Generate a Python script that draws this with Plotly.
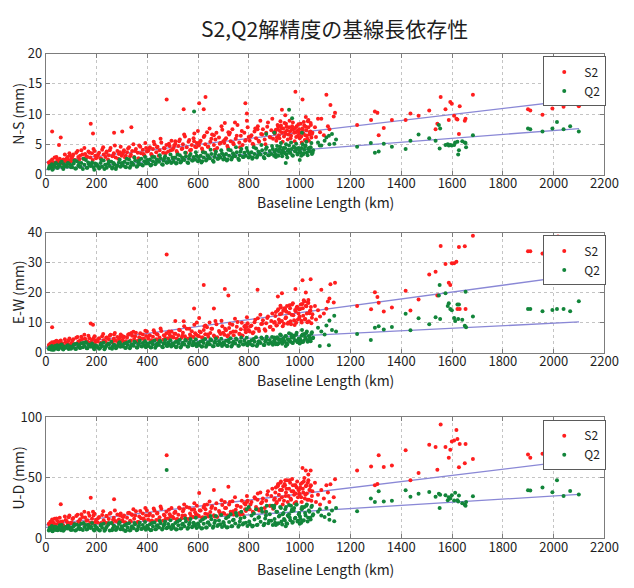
import plotly.graph_objects as go

# ---------------- data ----------------
# S2 baselines: dense cloud (km) and per-component precision (mm)
s2_km_dense = [
    15, 18, 22, 25, 28, 32, 35, 40, 45, 50, 55, 60, 65, 70, 78, 85, 90, 95,
    102, 108, 115, 120, 128, 135, 140, 148, 155, 160, 168, 175, 182, 188, 195, 198,
    203, 210, 215, 222, 228, 235, 240, 248, 255, 262, 268, 275, 282, 288, 295, 299,
    302, 308, 315, 320, 328, 335, 340, 348, 355, 362, 368, 375, 382, 388, 395, 398,
    403, 410, 415, 422, 428, 435, 440, 448, 455, 462, 468, 475, 482, 488, 495, 499,
    503, 510, 515, 522, 528, 535, 540, 548, 555, 562, 568, 575, 582, 588, 595, 599,
    603, 610, 615, 622, 628, 635, 640, 648, 655, 662, 668, 675, 682, 688, 695, 699,
    703, 710, 715, 722, 728, 735, 740, 748, 755, 762, 768, 775, 782, 788, 795, 799,
    803, 810, 815, 822, 828, 835, 840, 848, 855, 862, 868, 875, 882, 888, 895, 899,
    902, 906, 910, 915, 918, 922, 926, 930, 935, 938, 942, 946, 950, 955, 958, 962,
    966, 970, 975, 978, 982, 986, 990, 995, 998,
    1002, 1006, 1010, 1014, 1018, 1022, 1026, 1030, 1034, 1038, 1042, 1046, 1050,
    12, 30, 42, 58, 68, 75, 82, 88, 93, 99,
    105, 112, 125, 132, 144, 152, 164, 172, 185, 192,
    206, 218, 226, 238, 245, 252, 265, 272, 285, 292,
    305, 312, 324, 332, 345, 352, 365, 372, 385, 392,
    406, 418, 425, 438, 445, 452, 465, 472, 485, 492,
    506, 518, 525, 538, 545, 552, 565, 572, 585, 592,
    606, 618, 625, 638, 645, 652, 665, 672, 685, 692,
    706, 718, 725, 738, 745, 752, 765, 772, 785, 792,
    806, 818, 825, 838, 845, 852, 865, 872, 885, 892,
    904, 908, 913, 920, 924, 928, 933, 940, 944, 948, 953, 960, 964, 968, 973, 980,
    984, 988, 993, 997,
    1000, 1004, 1008, 1012, 1016, 1020, 1024, 1028, 1032, 1036, 1040, 1044, 1048,
]
s2_ns_dense = [
    1.6, 2.2, 1.9, 2.5, 1.4, 2.0, 2.8, 1.8, 2.4, 2.1, 2.6, 2.3, 1.9, 2.5, 2.2, 2.9, 2.4, 3.1,
    2.7, 3.3, 2.4, 3.6, 2.9, 3.1, 4.0, 2.6, 3.4, 3.0, 3.8, 2.8, 3.5, 4.2, 3.1, 2.7,
    3.0, 3.6, 2.7, 4.1, 3.3, 2.9, 3.8, 3.2, 4.4, 3.0, 3.5, 2.8, 3.9, 3.4, 4.6, 3.1,
    3.4, 4.0, 3.1, 3.7, 4.5, 3.3, 3.9, 2.9, 4.2, 3.6, 4.8, 3.5, 4.1, 3.2, 4.4, 3.8,
    3.9, 4.5, 3.4, 4.2, 5.0, 3.7, 4.6, 4.0, 5.3, 3.6, 4.3, 4.9, 3.8, 4.7, 5.6, 4.1,
    4.4, 5.1, 3.9, 4.7, 5.8, 4.2, 5.0, 6.3, 4.5, 5.4, 4.0, 4.9, 6.0, 4.6, 5.2, 7.2,
    4.8, 5.6, 4.3, 6.2, 5.0, 7.0, 4.6, 5.4, 6.6, 4.9, 5.8, 4.4, 6.1, 5.2, 7.4, 5.5,
    5.2, 6.0, 4.7, 6.6, 5.5, 7.5, 5.0, 5.9, 8.2, 5.3, 6.4, 4.9, 6.9, 5.7, 7.8, 6.2,
    5.6, 6.5, 5.1, 7.1, 6.0, 8.0, 5.4, 6.7, 7.5, 5.8, 6.9, 8.6, 6.2, 7.3, 5.9, 7.0,
    6.8, 7.4, 6.1, 7.9, 6.5, 7.2, 8.1, 6.9, 7.6, 6.3, 7.0, 8.4, 7.3, 6.6, 7.8, 7.1,
    6.4, 8.0, 7.5, 6.9, 7.7, 6.2, 7.2, 8.3, 6.8,
    7.0, 6.3, 7.6, 6.8, 8.1, 6.5, 7.3, 5.9, 7.8, 6.6, 7.1, 6.1, 6.9,
    2.0, 1.7, 2.9, 2.3, 1.8, 3.3, 2.6, 2.0, 3.5, 2.2,
    3.0, 2.3, 3.9, 2.5, 3.3, 4.4, 2.9, 3.6, 2.4, 3.9,
    3.3, 2.6, 4.5, 3.6, 2.5, 4.0, 3.1, 4.8, 2.6, 3.7,
    3.7, 2.8, 4.3, 3.0, 5.0, 3.9, 2.7, 4.6, 3.4, 5.2,
    4.2, 3.2, 5.4, 4.5, 3.1, 5.9, 4.4, 3.5, 5.1, 4.0,
    4.8, 3.6, 5.5, 4.3, 6.6, 3.6, 5.7, 4.1, 6.8, 4.5,
    5.3, 3.9, 6.4, 4.6, 7.6, 5.9, 4.1, 6.9, 5.1, 8.0,
    5.8, 4.4, 6.9, 5.2, 8.6, 6.4, 4.5, 7.2, 5.6, 8.9,
    6.3, 4.9, 7.6, 5.6, 8.9, 6.6, 5.0, 7.9, 6.1, 9.2,
    7.1, 5.6, 8.2, 6.0, 8.8, 7.7, 5.4, 8.5, 6.7, 7.9, 5.8, 8.9, 6.0, 7.4, 8.6, 5.5,
    7.0, 8.0, 6.4, 7.5,
    6.0, 8.4, 5.3, 7.4, 8.7, 5.7, 7.9, 6.4, 8.8, 5.6, 7.0, 8.2, 6.7,
]
s2_ew_dense = [
    2.1, 3.0, 2.6, 3.4, 1.9, 2.8, 3.6, 2.4, 3.2, 2.7, 3.8, 2.5, 3.1, 2.2, 3.5, 2.9, 4.0, 2.6,
    3.2, 4.4, 2.8, 4.9, 3.6, 4.1, 5.3, 3.0, 4.6, 3.8, 5.6, 3.3, 4.2, 4.8, 3.5, 4.0,
    3.7, 4.8, 3.2, 5.4, 4.1, 3.6, 5.0, 4.4, 5.9, 3.4, 4.6, 3.9, 5.2, 4.3, 6.0, 3.8,
    4.2, 5.3, 3.8, 4.9, 6.2, 4.0, 5.6, 4.5, 6.6, 3.9, 5.1, 4.7, 6.0, 4.3, 5.5, 7.0,
    4.6, 5.8, 4.1, 5.3, 6.7, 4.4, 6.0, 5.0, 7.2, 4.3, 5.5, 6.4, 4.8, 5.9, 7.0, 5.2,
    5.0, 6.3, 4.6, 5.8, 7.4, 4.9, 6.6, 5.4, 7.9, 4.7, 6.0, 7.1, 5.2, 6.4, 10.0, 5.6,
    5.4, 6.8, 5.0, 7.5, 6.1, 8.4, 5.3, 6.5, 7.9, 5.7, 10.5, 5.1, 7.2, 6.2, 8.8, 6.6,
    5.9, 7.4, 5.4, 8.2, 6.6, 9.3, 5.8, 7.0, 10.2, 6.3, 7.8, 5.7, 8.7, 6.8, 9.8, 7.5,
    7.0, 9.0, 6.4, 10.1, 8.0, 11.4, 7.2, 9.5, 10.8, 7.8, 9.8, 12.0, 8.5, 10.5, 7.6, 9.9,
    10.2, 13.5, 9.1, 14.4, 11.0, 12.8, 15.0, 10.5, 13.9, 9.6, 14.6, 11.8, 15.5, 10.0, 13.2, 14.8,
    9.4, 16.0, 12.4, 10.8, 14.2, 9.9, 15.3, 13.0, 11.5,
    14.5, 10.6, 16.2, 12.3, 17.0, 11.2, 15.4, 10.1, 16.5, 13.1, 14.0, 9.8, 12.8,
    2.5, 2.0, 3.9, 3.0, 2.3, 4.4, 3.3, 2.6, 4.7, 2.9,
    3.9, 2.7, 5.2, 3.1, 4.5, 5.9, 3.6, 4.8, 3.0, 5.4,
    4.4, 3.1, 6.2, 4.9, 3.0, 5.6, 4.0, 6.5, 3.3, 5.1,
    5.0, 3.4, 5.9, 3.8, 6.9, 5.4, 3.5, 6.4, 4.6, 7.3,
    5.5, 3.9, 7.4, 6.1, 4.0, 8.0, 5.8, 4.6, 7.0, 5.3,
    6.3, 4.5, 7.6, 5.6, 8.8, 4.5, 7.9, 5.4, 9.3, 6.0,
    7.0, 5.0, 8.8, 6.0, 10.0, 7.9, 5.3, 9.4, 6.8, 10.6,
    7.9, 5.8, 9.6, 7.0, 11.3, 8.6, 6.0, 9.9, 7.6, 11.8,
    8.8, 6.8, 10.9, 7.9, 12.6, 9.6, 7.3, 11.5, 8.6, 13.0,
    12.2, 9.0, 14.0, 10.0, 15.6, 13.0, 8.8, 14.8, 11.4, 13.6, 9.6, 15.8, 10.4, 12.6, 16.4, 9.2,
    13.8, 15.0, 11.0, 14.4,
    12.0, 16.0, 10.0, 14.8, 17.4, 11.0, 15.6, 13.0, 16.8, 10.4, 13.8, 15.2, 11.6,
]
s2_ud_dense = [
    10.5, 13.8, 12.0, 15.6, 9.5, 12.8, 16.2, 11.3, 14.6, 12.4, 17.0, 11.0, 14.0, 10.2, 15.2, 13.0, 17.5, 12.2,
    12.6, 16.8, 11.4, 18.5, 14.0, 15.8, 20.0, 12.2, 17.2, 14.5, 21.0, 13.0, 16.2, 19.0, 13.6, 15.4,
    13.4, 17.6, 12.0, 19.4, 15.0, 13.0, 18.4, 16.0, 21.0, 12.6, 17.0, 14.4, 19.8, 15.6, 20.6, 14.2,
    14.8, 18.8, 13.0, 17.0, 21.2, 14.0, 19.4, 16.2, 22.4, 13.6, 18.0, 16.6, 20.6, 15.0, 19.0, 23.0,
    15.6, 20.4, 14.2, 18.4, 23.0, 15.2, 21.0, 17.4, 24.4, 14.6, 19.0, 22.0, 16.4, 20.0, 25.0, 17.8,
    16.8, 21.6, 15.6, 19.6, 24.6, 16.6, 22.4, 18.8, 26.0, 16.0, 20.6, 23.6, 17.6, 21.6, 27.0, 19.0,
    18.4, 23.0, 17.0, 25.6, 20.4, 28.0, 18.0, 21.8, 26.6, 19.2, 24.4, 17.6, 22.6, 20.0, 27.6, 21.0,
    20.4, 25.0, 19.0, 28.0, 22.0, 30.6, 19.8, 23.6, 27.0, 21.0, 26.0, 20.0, 29.0, 22.6, 31.0, 24.0,
    24.0, 30.0, 22.0, 34.0, 26.0, 37.0, 23.0, 29.0, 33.0, 25.0, 31.0, 39.0, 27.0, 35.0, 24.5, 32.0,
    33.0, 42.0, 30.0, 45.0, 36.0, 40.0, 47.0, 34.0, 43.0, 31.0, 44.0, 38.0, 48.0, 35.0, 41.0, 46.0,
    32.0, 49.0, 39.0, 36.0, 44.0, 30.0, 47.0, 40.0, 37.0,
    42.0, 34.0, 46.0, 38.0, 50.0, 36.0, 44.0, 32.0, 48.0, 40.0, 43.0, 31.0, 39.0,
    12.0, 10.0, 16.5, 13.5, 11.0, 18.0, 14.4, 11.6, 19.0, 13.0,
    16.0, 12.0, 19.6, 13.6, 17.6, 22.0, 15.0, 18.6, 12.8, 20.4,
    16.6, 12.8, 22.4, 18.4, 12.6, 20.4, 15.4, 23.0, 13.4, 19.2,
    17.6, 13.4, 21.0, 14.6, 24.0, 19.0, 13.6, 22.6, 16.4, 25.0,
    19.0, 14.8, 24.6, 20.6, 15.4, 26.4, 19.6, 16.2, 23.6, 18.2,
    21.0, 16.0, 25.6, 19.0, 28.0, 16.4, 25.4, 18.4, 29.0, 20.0,
    23.0, 17.4, 27.6, 20.0, 30.4, 25.0, 18.0, 29.0, 21.6, 31.6,
    25.0, 19.0, 30.0, 22.4, 34.0, 27.0, 19.6, 31.0, 24.0, 35.0,
    28.0, 21.0, 33.0, 24.0, 38.0, 30.0, 22.0, 36.0, 27.0, 41.0,
    38.0, 29.0, 43.0, 32.0, 46.0, 40.0, 28.0, 45.0, 35.0, 41.0, 30.0, 48.0, 33.0, 39.0, 44.0, 29.0,
    37.0, 42.0, 34.0, 40.0,
    36.0, 45.0, 30.0, 41.0, 47.0, 33.0, 43.0, 37.0, 46.0, 32.0, 40.0, 44.0, 35.0,
]

# S2 isolated baselines (outliers and long baselines)
s2_km_sparse = [
    25, 52, 59, 177, 186, 269, 301, 337, 476, 510, 543, 584, 604, 622, 629, 662,
    705, 719, 786, 792, 834, 914, 930, 943, 983, 1011, 1024, 1034, 1043,
    1060, 1064, 1072, 1080, 1085, 1095, 1105, 1111, 1117, 1121, 1134, 1139,
    1226, 1281, 1296, 1306, 1311, 1331, 1363, 1417, 1436, 1468, 1510, 1535, 1542,
    1555, 1574, 1587, 1593, 1599, 1608, 1617, 1621, 1627, 1630, 1650, 1653, 1682,
    1899, 1908, 1956, 1995, 2017, 2039, 2065, 2099,
]
s2_ns_sparse = [
    7.1, 4.9, 6.1, 8.4, 6.8, 6.9, 7.1, 7.8, 12.4, 5.5, 10.8, 5.5, 11.8, 10.8, 12.8, 6.5,
    8.5, 7.0, 11.8, 10.1, 7.5, 7.5, 10.7, 9.8, 13.7, 12.4, 9.5, 9.0, 8.5,
    7.8, 6.2, 9.2, 7.0, 9.2, 6.5, 13.2, 8.0, 7.5, 11.5, 9.6, 10.2,
    8.2, 9.0, 10.4, 10.2, 6.5, 7.7, 9.0, 9.0, 10.1, 9.7, 10.6, 7.5, 8.4,
    12.8, 10.8, 9.0, 12.0, 11.7, 9.7, 9.2, 9.1, 6.7, 11.3, 8.9, 9.2, 13.2,
    10.8, 10.6, 9.9, 10.9, 12.2, 11.2, 11.8, 11.3,
]
s2_ew_sparse = [
    8.4, 3.5, 4.0, 9.7, 9.3, 6.0, 5.5, 6.5, 32.7, 10.5, 10.4, 14.7, 11.5, 22.5, 9.0, 14.7,
    21.2, 19.0, 9.0, 8.5, 20.9, 18.7, 19.8, 14.0, 21.2, 24.1, 20.0, 17.5, 24.4,
    15.5, 11.0, 14.1, 12.0, 20.9, 13.0, 14.6, 17.0, 18.0, 22.8, 16.7, 23.3,
    15.5, 14.4, 20.1, 18.5, 16.6, 13.7, 15.0, 20.6, 14.0, 17.7, 26.0, 26.9, 19.0,
    35.5, 29.5, 23.3, 22.5, 29.8, 29.8, 30.3, 14.5, 35.2, 14.5, 35.4, 14.5, 38.9,
    33.8, 33.8, 33.0, 34.0, 38.7, 36.0, 35.0, 37.0,
]
s2_ud_sparse = [
    14.0, 13.0, 28.3, 33.6, 22.0, 32.3, 18.0, 20.0, 68.8, 22.0, 24.0, 24.0, 37.5, 26.0, 24.0, 40.0,
    30.0, 42.6, 28.0, 30.0, 32.0, 44.0, 40.0, 48.0, 44.0, 58.1, 56.0, 52.8, 56.0,
    46.0, 30.0, 36.0, 28.0, 40.0, 33.0, 44.0, 38.0, 30.0, 44.8, 34.0, 48.8,
    56.0, 59.5, 44.0, 44.9, 68.8, 58.9, 60.3, 72.8, 48.0, 54.1, 77.3, 75.5, 56.8,
    94.1, 75.5, 66.7, 73.3, 80.0, 80.8, 89.6, 82.1, 58.7, 78.1, 62.0, 78.0, 65.6,
    69.3, 66.7, 70.0, 66.5, 72.0, 65.0, 65.5, 66.0,
]

# Q2 baselines: dense cloud (km) and per-component precision (mm)
q2_km_dense = [
    12, 16, 20, 24, 28, 32, 36, 40, 45, 50, 55, 60, 66, 72, 78, 84, 90, 96,
    104, 110, 116, 122, 128, 134, 140, 146, 152, 158, 164, 170, 176, 182, 188, 194, 199,
    204, 210, 216, 222, 228, 234, 240, 246, 252, 258, 264, 270, 276, 282, 288, 294, 299,
    304, 310, 316, 322, 328, 334, 340, 346, 352, 358, 364, 370, 376, 382, 388, 394, 399,
    404, 410, 416, 422, 428, 434, 440, 446, 452, 458, 464, 470, 476, 482, 488, 494, 499,
    504, 510, 516, 522, 528, 534, 540, 546, 552, 558, 564, 570, 576, 582, 588, 594, 599,
    604, 610, 616, 622, 628, 634, 640, 646, 652, 658, 664, 670, 676, 682, 688, 694, 699,
    704, 710, 716, 722, 728, 734, 740, 746, 752, 758, 764, 770, 776, 782, 788, 794, 799,
    804, 810, 816, 822, 828, 834, 840, 846, 852, 858, 864, 870, 876, 882, 888, 894, 899,
    903, 908, 913, 918, 923, 928, 933, 938, 943, 948, 953, 958, 963, 968, 973, 978, 983, 988, 993, 998,
    1003, 1008, 1013, 1018, 1023, 1028, 1033, 1038, 1043, 1048, 1053,
    14, 26, 38, 47, 53, 63, 69, 75, 87, 99,
    101, 113, 119, 131, 137, 149, 161, 167, 179, 191,
    201, 213, 219, 231, 237, 249, 261, 267, 279, 291,
    301, 313, 319, 331, 337, 349, 361, 367, 379, 391,
    401, 413, 419, 431, 437, 449, 461, 467, 479, 491,
    501, 513, 519, 531, 537, 549, 561, 567, 579, 591,
    601, 613, 619, 631, 637, 649, 661, 667, 679, 691,
    701, 713, 719, 731, 737, 749, 761, 767, 779, 791,
    801, 813, 819, 831, 837, 849, 861, 867, 879, 891,
    901, 906, 911, 916, 921, 926, 931, 936, 941, 946, 951, 956, 961, 966, 971, 976, 981, 986, 991, 996,
    1001, 1006, 1011, 1016, 1021, 1026, 1031, 1036, 1041, 1046, 1051,
]
q2_ns_dense = [
    1.0, 1.4, 1.2, 1.7, 0.9, 1.5, 1.3, 1.9, 1.1, 1.6, 1.4, 2.0, 1.2, 1.7, 1.5, 1.3, 1.8, 1.6,
    1.2, 1.8, 1.0, 2.2, 1.5, 1.3, 1.9, 0.9, 1.6, 2.4, 1.1, 1.7, 1.4, 2.0, 1.2, 1.8, 1.5,
    1.4, 1.0, 1.9, 1.3, 2.3, 1.6, 1.1, 1.8, 1.4, 2.1, 1.2, 1.7, 0.9, 1.5, 2.0, 1.3, 1.8,
    1.5, 2.1, 1.2, 1.8, 2.5, 1.4, 1.9, 1.6, 2.3, 1.3, 2.0, 1.7, 2.6, 1.5, 2.2, 1.8, 2.4,
    1.8, 2.5, 1.6, 2.2, 2.9, 1.9, 2.4, 2.1, 2.7, 1.7, 2.3, 3.0, 2.0, 2.6, 2.2, 1.9, 2.8,
    2.1, 2.8, 1.9, 2.5, 3.2, 2.2, 2.7, 2.4, 3.0, 2.0, 2.6, 3.4, 2.3, 2.9, 2.5, 3.1, 2.2,
    2.4, 3.1, 2.2, 2.8, 3.6, 2.5, 3.0, 2.7, 3.4, 2.3, 2.9, 3.8, 2.6, 3.2, 2.8, 3.5, 2.5,
    2.7, 3.4, 2.5, 3.1, 4.0, 2.8, 3.3, 3.0, 3.7, 2.6, 3.2, 4.2, 2.9, 3.6, 3.1, 3.9, 2.8,
    3.0, 3.7, 2.8, 3.4, 4.3, 3.1, 3.6, 3.3, 4.0, 2.9, 3.5, 4.5, 3.2, 3.9, 3.4, 4.2, 3.1,
    3.4, 4.1, 3.2, 3.8, 4.6, 3.5, 4.0, 3.7, 4.4, 3.3, 3.9, 4.8, 3.6, 4.2, 3.1, 4.5, 3.8, 4.3, 3.5, 4.0,
    3.7, 4.4, 3.3, 4.1, 4.8, 3.6, 4.2, 3.9, 4.5, 3.4, 4.0,
    1.3, 0.8, 1.8, 1.1, 1.6, 2.1, 0.9, 1.4, 1.9, 1.2,
    1.5, 2.3, 1.0, 1.9, 1.3, 2.6, 1.1, 2.0, 1.6, 0.8,
    1.7, 1.2, 2.4, 0.9, 1.6, 2.2, 1.0, 1.9, 1.3, 2.5,
    1.9, 1.3, 2.6, 1.1, 2.0, 2.8, 1.4, 2.3, 1.6, 2.9,
    2.3, 1.5, 2.9, 1.7, 2.5, 3.2, 1.6, 2.7, 2.0, 3.3,
    2.6, 1.8, 3.3, 2.0, 2.8, 3.6, 1.9, 3.1, 2.3, 3.7,
    2.9, 2.0, 3.7, 2.3, 3.2, 4.1, 2.1, 3.4, 2.6, 4.0,
    3.2, 2.3, 4.1, 2.5, 3.5, 4.5, 2.4, 3.8, 2.9, 4.4,
    3.5, 2.6, 4.5, 2.8, 3.8, 4.9, 2.7, 4.2, 3.2, 4.7,
    3.8, 2.9, 4.7, 3.1, 4.2, 5.2, 3.0, 4.4, 3.5, 5.0, 2.8, 4.1, 3.6, 5.3, 3.2, 4.6, 3.9, 5.1, 3.3, 4.4,
    4.2, 3.1, 5.0, 3.5, 4.6, 5.4, 3.2, 4.4, 3.8, 5.2, 3.6,
]
q2_ew_dense = [
    1.2, 1.8, 1.0, 2.2, 1.5, 0.9, 2.0, 1.4, 2.4, 1.1, 1.7, 2.6, 1.3, 1.9, 1.6, 2.3, 1.2, 2.0,
    1.6, 2.5, 1.3, 2.9, 2.0, 1.5, 3.1, 1.8, 2.3, 3.4, 1.4, 2.6, 2.0, 3.0, 1.7, 2.4, 2.1,
    1.8, 1.3, 2.7, 2.1, 3.3, 1.6, 2.4, 2.9, 1.5, 3.6, 2.0, 2.6, 1.4, 2.2, 3.1, 1.9, 2.5,
    2.0, 3.0, 1.6, 2.5, 3.7, 1.9, 2.8, 2.3, 3.4, 1.7, 2.7, 3.9, 2.1, 3.2, 2.4, 1.8, 2.9,
    2.2, 3.3, 1.8, 2.8, 4.0, 2.1, 3.1, 2.5, 3.6, 1.9, 2.9, 4.2, 2.3, 3.4, 2.6, 2.0, 3.0,
    2.4, 3.5, 1.9, 3.0, 4.3, 2.2, 3.3, 2.7, 3.9, 2.0, 3.1, 4.4, 2.5, 3.6, 2.8, 2.1, 3.2,
    2.5, 3.7, 2.0, 3.2, 4.5, 2.4, 3.4, 2.8, 4.1, 2.1, 3.3, 4.7, 2.6, 3.8, 2.9, 2.2, 3.4,
    2.7, 3.9, 2.2, 3.4, 4.8, 2.5, 3.6, 3.0, 4.3, 2.3, 3.5, 5.0, 2.8, 4.0, 3.1, 2.4, 3.6,
    2.9, 4.1, 2.4, 3.6, 5.1, 2.7, 3.8, 3.2, 4.6, 2.5, 3.7, 5.3, 3.0, 4.2, 3.3, 2.6, 3.9,
    3.3, 4.8, 2.8, 4.2, 6.0, 3.5, 4.5, 3.9, 5.4, 3.0, 4.4, 6.4, 3.6, 5.0, 3.2, 5.7, 4.0, 6.6, 3.4, 4.7,
    4.0, 5.6, 3.5, 6.2, 4.6, 7.0, 4.2, 5.3, 3.8, 6.8, 4.9,
    1.5, 0.9, 2.2, 1.2, 1.9, 2.7, 1.0, 1.6, 2.4, 1.3,
    1.9, 2.8, 1.2, 2.4, 1.6, 3.3, 1.4, 2.7, 2.0, 1.1,
    2.2, 1.4, 3.0, 1.1, 2.0, 2.8, 1.3, 2.5, 1.7, 3.4,
    2.4, 1.5, 3.3, 1.4, 2.6, 3.6, 1.7, 3.0, 2.0, 3.8,
    2.6, 1.7, 3.5, 1.6, 2.8, 3.9, 1.8, 3.2, 2.2, 4.1,
    2.8, 1.8, 3.8, 1.7, 3.0, 4.2, 2.0, 3.4, 2.4, 4.4,
    3.0, 2.0, 4.0, 1.9, 3.2, 4.4, 2.1, 3.6, 2.5, 4.6,
    3.2, 2.2, 4.2, 2.0, 3.4, 4.7, 2.3, 3.8, 2.7, 4.9,
    3.4, 2.4, 4.5, 2.2, 3.6, 5.0, 2.5, 4.0, 2.9, 5.2,
    3.9, 2.8, 5.1, 3.1, 4.4, 5.8, 2.9, 4.7, 3.6, 5.5, 2.7, 4.3, 3.8, 6.1, 3.3, 5.0, 4.1, 5.9, 3.5, 4.6,
    4.6, 3.4, 6.0, 3.9, 5.2, 6.5, 3.6, 5.5, 4.3, 6.3, 4.8,
]
q2_ud_dense = [
    6.5, 8.8, 7.4, 10.2, 6.0, 8.0, 9.6, 7.0, 9.0, 7.8, 10.8, 6.8, 8.5, 7.2, 9.4, 8.2, 10.0, 7.6,
    7.2, 10.0, 6.6, 11.4, 8.4, 7.6, 12.2, 6.9, 9.4, 11.0, 7.8, 9.8, 8.6, 12.6, 7.4, 10.4, 9.0,
    7.8, 6.8, 10.6, 8.8, 12.0, 7.2, 9.6, 11.2, 6.6, 12.8, 8.2, 10.2, 7.0, 9.2, 11.8, 7.6, 10.0,
    7.4, 10.8, 6.4, 9.0, 12.4, 7.0, 10.0, 8.4, 11.6, 6.8, 9.6, 13.0, 7.8, 11.0, 8.8, 7.2, 10.4,
    8.0, 11.6, 7.0, 9.8, 13.2, 7.6, 10.8, 9.0, 12.4, 7.4, 10.4, 14.0, 8.4, 11.8, 9.4, 7.8, 11.0,
    8.8, 12.8, 7.6, 10.8, 15.0, 8.4, 12.0, 10.0, 14.0, 8.0, 11.4, 16.0, 9.2, 13.0, 10.4, 8.6, 12.2,
    9.6, 14.4, 8.4, 12.0, 17.0, 9.0, 13.4, 11.0, 15.8, 8.8, 12.6, 18.4, 10.2, 14.8, 11.6, 9.4, 13.6,
    10.4, 16.6, 9.2, 13.6, 20.0, 10.0, 15.4, 12.2, 18.6, 9.6, 14.0, 22.0, 11.4, 17.4, 13.0, 10.2, 26.0,
    11.6, 19.0, 10.4, 15.6, 24.0, 11.2, 17.6, 13.8, 22.0, 10.8, 16.4, 27.0, 12.4, 20.0, 14.6, 11.0, 25.0,
    13.0, 22.0, 12.0, 18.0, 26.0, 14.0, 20.0, 16.0, 24.0, 12.5, 19.0, 27.5, 15.0, 22.5, 13.5, 25.0, 17.0, 28.0, 14.5, 21.0,
    16.0, 24.0, 14.5, 26.0, 19.0, 28.0, 17.0, 22.0, 15.5, 27.0, 20.0,
    7.8, 5.8, 9.4, 6.8, 8.6, 11.0, 6.2, 8.4, 10.4, 7.0,
    8.8, 11.6, 6.8, 10.4, 8.0, 12.8, 7.4, 11.2, 9.6, 6.4,
    9.0, 6.4, 11.4, 6.2, 8.6, 12.4, 6.8, 10.4, 7.8, 13.4,
    8.6, 6.0, 11.8, 6.6, 9.4, 12.8, 7.4, 10.6, 8.0, 13.6,
    9.6, 6.8, 12.6, 7.6, 10.4, 14.4, 8.2, 11.6, 9.0, 15.0,
    10.6, 7.4, 14.0, 8.2, 11.6, 16.4, 8.8, 13.0, 10.0, 17.0,
    11.6, 8.2, 15.8, 9.0, 13.0, 18.4, 9.8, 14.6, 11.0, 19.4,
    12.8, 9.0, 17.8, 10.0, 15.0, 21.0, 10.8, 16.4, 12.4, 24.0,
    14.0, 9.8, 20.6, 11.0, 17.0, 24.6, 12.0, 19.0, 14.6, 27.0,
    16.0, 11.0, 22.0, 12.5, 19.0, 25.0, 11.5, 21.0, 15.0, 26.0, 12.0, 18.0, 17.0, 27.0, 13.0, 23.0,
    16.5, 28.0, 14.0, 20.0,
    18.0, 13.0, 25.0, 15.0, 21.0, 27.0, 14.0, 23.0, 17.0, 26.0, 19.0,
]

# Q2 isolated baselines (outliers and long baselines)
q2_km_sparse = [
    476, 584, 868, 900, 945, 958, 970, 1000, 1009,
    1072, 1079, 1085, 1098, 1105, 1115, 1117, 1127, 1136, 1143,
    1226, 1280, 1296, 1311, 1331, 1363, 1417, 1436, 1468, 1510, 1535, 1548, 1551, 1553,
    1574, 1583, 1587, 1593, 1599, 1608, 1612, 1621, 1624, 1627, 1640, 1650, 1653, 1655, 1682,
    1899, 1908, 1956, 1995, 2013, 2039, 2065, 2099,
]
q2_ns_sparse = [
    2.0, 10.4, 6.7, 6.9, 1.9, 10.7, 9.3, 2.4, 6.9,
    5.3, 4.8, 4.8, 5.6, 6.1, 6.4, 5.0, 6.7, 5.1, 5.8,
    4.6, 5.2, 3.6, 3.8, 5.1, 4.6, 4.2, 5.6, 6.6, 6.0, 5.6, 8.2, 4.3, 7.6,
    4.9, 5.0, 4.8, 4.9, 4.8, 4.9, 5.3, 5.4, 3.3, 4.0, 5.5, 5.3, 5.2, 4.5, 6.5,
    7.6, 7.5, 7.1, 7.6, 8.7, 7.5, 8.0, 7.1,
]
q2_ew_sparse = [
    2.5, 3.0, 4.5, 5.0, 2.2, 4.0, 5.0, 3.0, 7.5,
    8.3, 2.2, 7.0, 6.0, 9.0, 2.4, 10.7, 7.5, 12.3, 7.0,
    6.2, 4.2, 8.3, 8.8, 7.7, 8.5, 12.9, 7.4, 11.4, 9.4, 11.8, 19.0, 22.5, 11.2,
    19.8, 15.5, 16.4, 14.5, 14.1, 11.5, 10.5, 16.0, 11.2, 16.0, 10.9, 8.9, 20.3, 8.4, 12.0,
    14.5, 14.5, 13.8, 14.2, 14.5, 14.5, 13.8, 17.1,
]
q2_ud_sparse = [
    56.5, 12.0, 22.0, 27.0, 10.0, 20.0, 24.0, 12.0, 26.0,
    22.0, 24.0, 19.0, 17.6, 25.0, 20.0, 15.4, 23.0, 14.1, 25.0,
    22.5, 33.0, 30.0, 38.9, 30.5, 31.0, 39.7, 34.4, 36.8, 38.4, 34.4, 36.8, 25.0, 36.0,
    35.7, 31.6, 33.9, 33.0, 35.7, 31.3, 37.7, 31.6, 30.5, 35.5, 29.0, 27.7, 26.9, 30.0, 34.9,
    39.7, 39.5, 42.0, 38.1, 48.0, 35.1, 39.2, 36.3,
]

# Least-squares trend lines: endpoints (km, mm) per component
fit_km = [0, 2100]
s2_fit = {"ns": [2.0, 12.4], "ew": [1.8, 25.9], "ud": [11.2, 64.8]}
q2_fit = {"ns": [0.8, 7.6], "ew": [1.4, 10.2], "ud": [9.1, 36.3]}

# Panel setup
components = ["ns", "ew", "ud"]
y_titles = ["N-S (mm)", "E-W (mm)", "U-D (mm)"]
y_ranges = [[0, 20], [0, 40], [0, 100]]
y_dticks = [5, 10, 50]
x_title = "Baseline Length (km)"
title_text = "S2,Q2解精度の基線長依存性"

# ---------------- assemble ----------------
s2_km = s2_km_dense + s2_km_sparse
q2_km = q2_km_dense + q2_km_sparse
s2_vals = {
    "ns": s2_ns_dense + s2_ns_sparse,
    "ew": s2_ew_dense + s2_ew_sparse,
    "ud": s2_ud_dense + s2_ud_sparse,
}
q2_vals = {
    "ns": q2_ns_dense + q2_ns_sparse,
    "ew": q2_ew_dense + q2_ew_sparse,
    "ud": q2_ud_dense + q2_ud_sparse,
}
for c in components:
    assert len(s2_vals[c]) == len(s2_km), (c, len(s2_vals[c]), len(s2_km))
    assert len(q2_vals[c]) == len(q2_km), (c, len(q2_vals[c]), len(q2_km))

W, H = 634, 588
FONT = "Noto Sans CJK JP"
TXT = "#1e1e1e"
RED = "#ff1e1e"
GREEN = "#12853a"
FITC = "#8a88d6"
AXC = "#7c7c7c"

# panel pixel boxes (top, bottom) and shared left/right
px_left, px_right = 43, 618
px_boxes = [(45, 170), (230, 354), (421, 546)]
xtitle_gap = [28, 28, 32]

fig = go.Figure()
legend_names = ["legend", "legend2", "legend3"]

for i, c in enumerate(components):
    sfx = "" if i == 0 else str(i + 1)
    xa, ya = "x" + sfx, "y" + sfx
    for fit in (s2_fit, q2_fit):
        fig.add_trace(go.Scatter(
            x=fit_km, y=fit[c], mode="lines", xaxis=xa, yaxis=ya,
            line=dict(color=FITC, width=1.3), showlegend=False, hoverinfo="skip",
        ))
    fig.add_trace(go.Scatter(
        x=s2_km, y=s2_vals[c], mode="markers", name="S2", xaxis=xa, yaxis=ya,
        marker=dict(color=RED, size=4, line=dict(width=0)), legend=legend_names[i],
    ))
    fig.add_trace(go.Scatter(
        x=q2_km, y=q2_vals[c], mode="markers", name="Q2", xaxis=xa, yaxis=ya,
        marker=dict(color=GREEN, size=4, line=dict(width=0)), legend=legend_names[i],
    ))

layout = dict(
    width=W, height=H,
    margin=dict(l=0, r=0, t=0, b=0),
    paper_bgcolor="white", plot_bgcolor="white",
    font=dict(family=FONT, color=TXT, size=13),
    showlegend=True,
)

axis_common = dict(
    showgrid=True, gridcolor="#c4c4c4", griddash="dot", gridwidth=1,
    showline=True, linecolor=AXC, linewidth=1, mirror="ticks",
    ticks="inside", ticklen=4, tickcolor=AXC, zeroline=False,
    tickfont=dict(family=FONT, size=13, color=TXT),
)

annotations = [dict(
    text=title_text, x=340 / W, y=1 - 19 / H, xref="paper", yref="paper",
    showarrow=False, font=dict(family=FONT, size=21, color=TXT),
    xanchor="center", yanchor="middle",
)]

for i, (top, bot) in enumerate(px_boxes):
    sfx = "" if i == 0 else str(i + 1)
    layout["xaxis" + sfx] = dict(
        axis_common, domain=[px_left / W, px_right / W], range=[0, 2200],
        tick0=0, dtick=200, anchor="y" + sfx, ticklabelstandoff=-3,
    )
    layout["yaxis" + sfx] = dict(
        axis_common, domain=[1 - bot / H, 1 - top / H], range=y_ranges[i],
        tick0=0, dtick=y_dticks[i], anchor="x" + sfx,
    )
    layout[legend_names[i]] = dict(
        x=555 / W, y=1 - (top + 3) / H, xanchor="left", yanchor="top",
        bgcolor="white", bordercolor="#5a5a5a", borderwidth=1,
        font=dict(family=FONT, size=12, color=TXT), tracegroupgap=0,
        itemwidth=30,
    )
    annotations.append(dict(
        text=x_title, x=(px_left + px_right) / 2 / W, y=1 - (bot + xtitle_gap[i]) / H,
        xref="paper", yref="paper", showarrow=False, xanchor="center",
        yanchor="middle", font=dict(family=FONT, size=14, color=TXT),
    ))
    annotations.append(dict(
        text=y_titles[i], x=14 / W, y=1 - (top + bot) / 2 / H,
        xref="paper", yref="paper", showarrow=False, textangle=-90,
        xanchor="center", yanchor="middle",
        font=dict(family=FONT, size=14, color=TXT),
    ))

layout["annotations"] = annotations
fig.update_layout(**layout)
fig.write_html("out.html")
